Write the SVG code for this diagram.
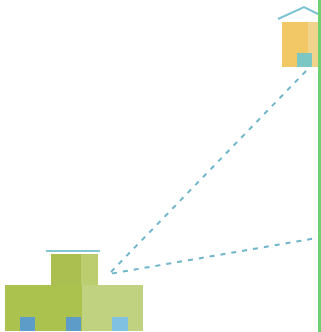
<svg xmlns="http://www.w3.org/2000/svg" width="321" height="332" viewBox="0 0 321 332">
<style>.d{fill:none;stroke:#6fb5cb;stroke-width:2;stroke-dasharray:5 6}.r{fill:none;stroke:#7cc3d2;stroke-width:2}</style>
<rect width="321" height="332" fill="#fff"/>
<g id="connectors"><path class="d" d="M306 71L109 274L317 238"/></g>
<g id="building-large">
<rect x="51" y="254" width="30" height="32" fill="#aabf4f"/>
<rect x="81" y="254" width="17" height="32" fill="#bccd70"/>
<rect x="5" y="285" width="77" height="46" fill="#abc24e"/>
<rect x="82" y="285" width="61" height="46" fill="#c0d27f"/>
<rect x="20" y="317" width="15" height="14" fill="#5d9bc9"/>
<rect x="66" y="317" width="15" height="14" fill="#5d9bc9"/>
<rect x="112" y="317" width="16" height="14" fill="#80c0e0"/>
<path d="M46 251H100" fill="none" stroke="#84c6d4" stroke-width="2"/>
</g>
<g id="building-small">
<rect x="282" y="22" width="36" height="45" fill="#f2c766"/>
<rect x="308" y="22" width="10" height="45" fill="#f0d48c"/>
<rect x="297" y="53" width="15" height="14" fill="#7cc6c4"/>
<path class="r" d="M278 19L304 7L318 14"/>
</g>
<rect id="edge-bar" x="318" y="0" width="3" height="332" fill="#6fd070"/>
</svg>
